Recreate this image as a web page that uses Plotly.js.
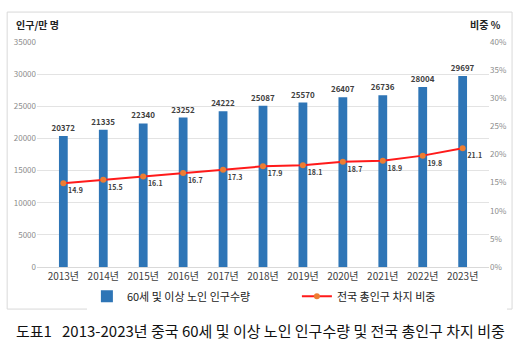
<!DOCTYPE html>
<html><head><meta charset="utf-8">
<script src="https://cdn.plot.ly/plotly-3.0.1.min.js"></script>
<style>html,body{margin:0;padding:0;background:#fff}#chart{width:526px;height:346px}</style>
</head><body><div id="chart"></div>
<script>
const years = ['2013년','2014년','2015년','2016년','2017년','2018년','2019년','2020년','2021년','2022년','2023년'];
const population = [20372,21335,22340,23252,24222,25087,25570,26407,26736,28004,29697];
const share = [14.9,15.5,16.1,16.7,17.3,17.9,18.1,18.7,18.9,19.8,21.1];
const barName = '60세 및 이상 노인 인구수량';
const lineName = '전국 총인구 차지 비중';
const captionText = '도표1   2013-2023년 중국 60세 및 이상 노인 인구수량 및 전국 총인구 차지 비중';

const font = '"Noto Sans CJK KR", "Noto Sans", sans-serif';
const traces = [
  {type:'bar', x:years, y:population, name:barName,
   marker:{color:'#2e75b6'}, text:population.map(String), textposition:'outside', constraintext:'none',
   textfont:{size:8, color:'#404040', family:font, weight:'bold'}, cliponaxis:false},
  {type:'scatter', mode:'lines+markers+text', x:years, y:share, yaxis:'y2', name:lineName,
   line:{color:'#ff1a1a', width:2}, marker:{color:'#ed7d31', size:6},
   text:share.map(v=>v.toFixed(1)), textposition:'bottom right',
   textfont:{size:7, color:'#404040', family:font, weight:'bold'}, cliponaxis:false}
];
const layout = {
  width:526, height:346,
  margin:{l:37, r:37, t:42, b:79},
  paper_bgcolor:'#fff', plot_bgcolor:'#fff',
  font:{family:font, color:'#404040'},
  bargap:0.78,
  showlegend:true,
  legend:{orientation:'h', x:0.575, xanchor:'center', y:-0.13, yanchor:'middle',
          font:{size:11, color:'#222'}, traceorder:'normal', entrywidth:165, entrywidthmode:'pixels'},
  xaxis:{type:'category', showgrid:false, zeroline:false, showline:true, linecolor:'#d9d9d9',
         ticks:'', tickfont:{size:10, color:'#404040'}},
  yaxis:{range:[0,35000], dtick:5000, tickformat:'d', gridcolor:'#e3e3e3', zeroline:false, showline:false,
         tickfont:{size:8, color:'#8c8c8c'}},
  yaxis2:{range:[0,40], dtick:5, overlaying:'y', side:'right', showgrid:false, zeroline:false,
          ticksuffix:'%', tickfont:{size:8, color:'#8c8c8c'}},
  shapes:[{type:'rect', xref:'paper', yref:'paper', x0:-0.066, x1:1.051, y0:-0.187, y1:1.133,
           line:{color:'#d9d9d9', width:1}, fillcolor:'rgba(0,0,0,0)', layer:'below'}],
  annotations:[
    {text:'<b>인구/만 명</b>', xref:'paper', yref:'paper', x:-0.051, y:1.076, xanchor:'left', yanchor:'middle',
     showarrow:false, font:{size:10, color:'#222'}},
    {text:'<b>비중 %</b>', xref:'paper', yref:'paper', x:1.031, y:1.076, xanchor:'right', yanchor:'middle',
     showarrow:false, font:{size:10, color:'#222'}},
    {text:captionText, xref:'paper', yref:'paper', x:-0.051, y:-0.28, xanchor:'left', yanchor:'middle',
     showarrow:false, font:{size:15, color:'#111', family:'"Noto Sans CJK KR", sans-serif'}}
  ]
};
Plotly.newPlot('chart', traces, layout, {displayModeBar:false, staticPlot:true});
</script></body></html>
